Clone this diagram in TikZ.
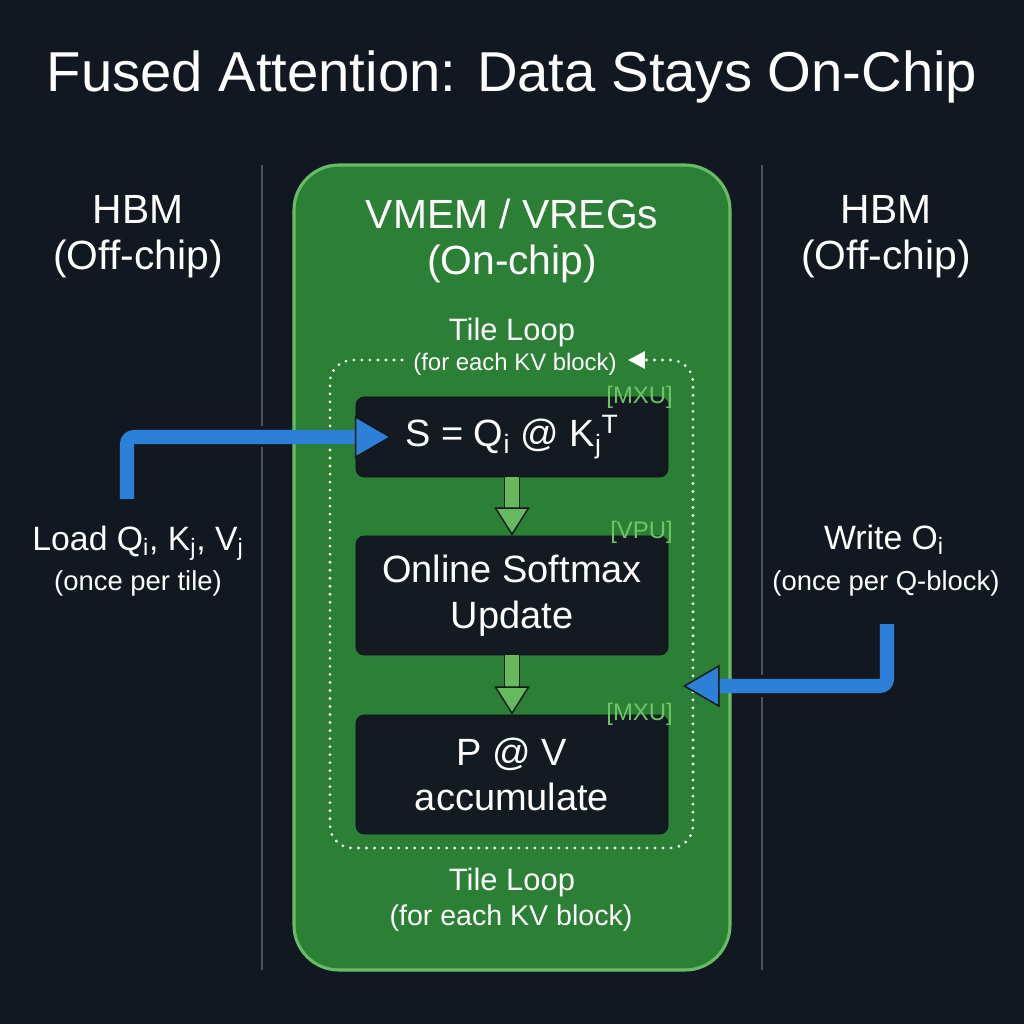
\documentclass[tikz,border=0pt]{standalone}
\usepackage{fontspec}
\setmainfont{Liberation Sans}
\usetikzlibrary{arrows.meta,calc}

\definecolor{bgnavy}{RGB}{18,24,33}
\definecolor{chipgreen}{RGB}{44,128,54}
\definecolor{chipedge}{RGB}{104,188,104}
\definecolor{stagefill}{RGB}{19,26,34}
\definecolor{flowgreen}{RGB}{100,186,92}
\definecolor{tagcol}{RGB}{112,196,104}
\definecolor{hbmblue}{RGB}{45,128,216}
\definecolor{edgedark}{RGB}{14,22,24}
\definecolor{divider}{RGB}{78,84,92}

\newcommand{\fsz}[2]{\fontsize{#1}{#2}\selectfont}

\begin{document}
\begin{tikzpicture}[x=0.025cm,y=-0.025cm,
   titletext/.style={text=white,font=\fsz{40pt}{48pt}},
   headtext/.style={text=white,align=center,font=\fsz{29pt}{33pt}},
   looptext/.style={text=white,font=\fsz{22pt}{26pt}},
   loopnote/.style={text=white,font=\fsz{17pt}{20pt}},
   iotext/.style={text=white,font=\fsz{24pt}{28pt}},
   ionote/.style={text=white,font=\fsz{19.5pt}{23pt}},
   stage/.style={rectangle,rounded corners=6pt,fill=stagefill,draw=edgedark,
      line width=0.6pt,text=white,align=center,minimum width=7.8cm,
      font=\fsz{27pt}{32.5pt}},
   unittag/.style={text=tagcol,font=\fsz{17pt}{20pt},anchor=east,inner sep=1pt},
   flowarrow/.style={line width=10.5pt,draw=flowgreen,
      -{Triangle[length=20pt,width=25pt,fill=flowgreen,color=edgedark,line width=1pt]},
      preaction={draw=edgedark,line width=12pt,-,shorten >=18pt}},
   hbmarrow/.style={line width=10pt,draw=hbmblue,rounded corners=5pt,
      -{Triangle[length=26pt,width=30pt,fill=hbmblue,color=edgedark,line width=1pt]}},
   loopline/.style={draw=white,line width=2.2pt,line cap=round,
      dash pattern=on 0pt off 5.7pt,rounded corners=16pt,
      -{Triangle[length=12pt,width=12pt,fill=white,color=white]}},
   sep/.style={draw=divider,line width=2pt}
]
   % background and frame
   \fill[bgnavy] (0,0) rectangle (1024,1024);
   \node[titletext] (title) at (512,77) {Fused Attention: Data Stays On-Chip};

   \draw[sep] (262,165) -- (262,426) (262,447) -- (262,970);
   \draw[sep] (762,165) -- (762,675) (762,697) -- (762,970);

   \draw[fill=chipgreen,draw=chipedge,line width=2.2pt,rounded corners=32pt]
      (294,165) rectangle (730,970);

   \node[headtext] (hbmL) at (138,237) {HBM\\(Off-chip)};
   \node[headtext] (hbmR) at (886,237) {HBM\\(Off-chip)};
   \node[headtext] (vmem) at (512,241) {VMEM / VREGs\\(On-chip)};

   % tile loop
   \node[looptext] (loopA) at (512,333) {Tile Loop};
   \node[loopnote] (noteA) at (515,364) {(for each KV block)};
   \node[looptext] (loopB) at (512,882) {Tile Loop};
   \node[loopnote,font=\fsz{20.3pt}{24pt}] (noteB) at (511,918) {(for each KV block)};
   \draw[loopline] (402,360) -- (330,360) -- (330,848) -- (693,848)
      -- (693,360) -- (628,360);

   % stages
   \node[stage,minimum height=2cm] (score) at (512,437)
      {S = Q\textsubscript{i} @ K\textsubscript{j}\textsuperscript{T}};
   \node[stage,minimum height=2.975cm] (softmax) at (512,595.5)
      {Online Softmax\\Update};
   \node[stage,minimum height=2.975cm] (accum) at (512,774.5)
      {P @ V\\accumulate};

   \node[unittag] (tagS) at ($(score.north east)+(6,1)$) {[MXU]};
   \node[unittag] (tagM) at ($(softmax.north east)+(6,-3)$) {[VPU]};
   \node[unittag] (tagA) at ($(accum.north east)+(6,0)$) {[MXU]};

   \draw[flowarrow] (score) -- (softmax);
   \draw[flowarrow] (softmax) -- (accum);

   % HBM traffic
   \node[iotext] (loadtxt) at (138,543)
      {Load Q\textsubscript{i}, K\textsubscript{j}, V\textsubscript{j}};
   \node[ionote] (loadnote) at (138,583) {(once per tile)};
   \node[iotext] (writetxt) at (884,540) {Write O\textsubscript{i}};
   \node[ionote] (writenote) at (886,583) {(once per Q-block)};

   \coordinate (loadfrom) at (127,499);
   \coordinate (writefrom) at (887,624);
   \coordinate (writeto) at (683,686);
   \draw[hbmarrow] (loadfrom) |- ($(score.west)+(36,0)$);
   \draw[hbmarrow] (writefrom) |- (writeto);
\end{tikzpicture}
\end{document}
